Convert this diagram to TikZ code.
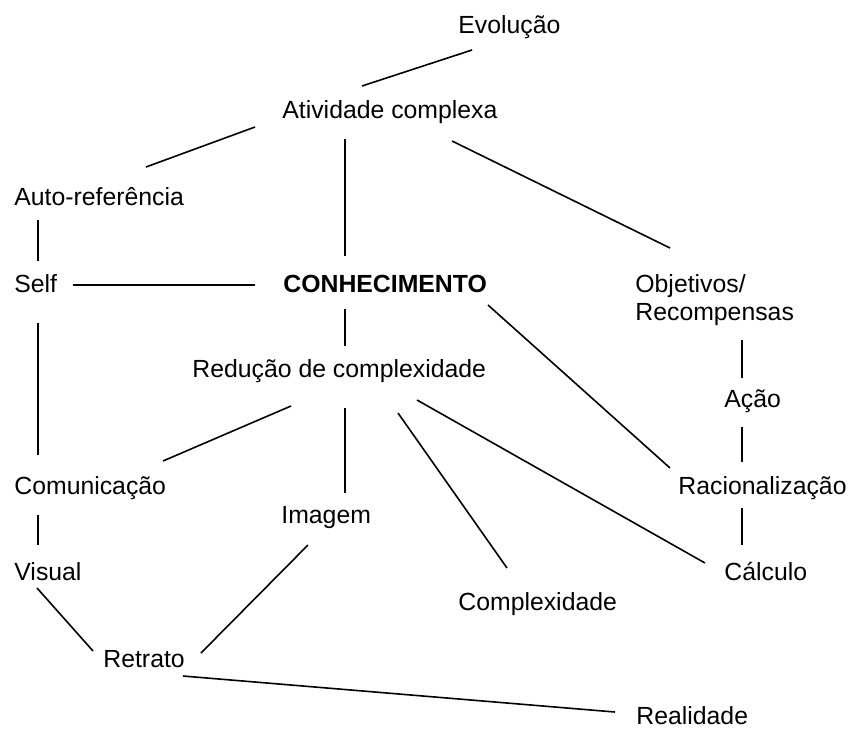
\documentclass[tikz,border=0pt]{standalone}
\usepackage{fontspec}
\setmainfont{Liberation Sans}
\usepackage{tikz}

\tikzset{
  lbl/.style={anchor=base west, inner sep=0pt, font=\fontsize{12.4}{13.8}\selectfont},
  link/.style={line width=0.8pt}
}

\begin{document}
\begin{tikzpicture}[x=0.5pt, y=-0.5pt]
     \useasboundingbox (0,0) rectangle (850,728);
      %%%%%%%%%%%%%%%%%%%%%%%%%%%%%%%%%%%%%%%%%%%%%%
      %%% Concepts (placed at their base line)
      %%%%%%%%%%%%%%%%%%%%%%%%%%%%%%%%%%%%%%%%%%%%%%
     \node[lbl] (evo)  at (458,33)  {Evolução};
     \node[lbl] (atv)  at (282,118) {Atividade complexa};
     \node[lbl] (auto) at (14,205)  {Auto-referência};
     \node[lbl] (self) at (14,292)  {Self};
     \node[lbl, font=\fontsize{12.4}{13.8}\selectfont\bfseries] (con) at (283,292) {CONHECIMENTO};
     \node[lbl] (obj)  at (635,292) {Objetivos/};
     \node[lbl] (rec)  at (635,320) {Recompensas};
     \node[lbl] (red)  at (192,377) {Redução de complexidade};
     \node[lbl] (acao) at (724,407) {Ação};
     \node[lbl] (com)  at (14,494)  {Comunicação};
     \node[lbl] (rac)  at (678,494) {Racionalização};
     \node[lbl] (img)  at (281,523) {Imagem};
     \node[lbl] (vis)  at (14,580)  {Visual};
     \node[lbl] (calc) at (724,580) {Cálculo};
     \node[lbl] (cpx)  at (458,610) {Complexidade};
     \node[lbl] (ret)  at (103,667) {Retrato};
     \node[lbl] (real) at (636,724) {Realidade};

      %%%%%%%%%%%%%%%%%%%%%%%%%%%%%%%%%%%%%%%%%%%%%%
      %%% Links, free standing, offset from the labels
      %%%%%%%%%%%%%%%%%%%%%%%%%%%%%%%%%%%%%%%%%%%%%%
     % upper part
     \draw[link] ([shift={(80,-32)}]atv.base west) -- ([shift={(14,17)}]evo.base west);
     \draw[link] ([shift={(-27,9)}]atv.base west) -- ([shift={(132,-38)}]auto.base west);
     \draw[link] ([shift={(63,21)}]atv.base west) -- ([shift={(62,-36)}]con.base west);
     \draw[link] ([shift={(170,23)}]atv.base west) -- ([shift={(35,-44)}]obj.base west);
     \draw[link] ([shift={(24,15)}]auto.base west) -- ([shift={(24,-31)}]self.base west);
     \draw[link] ([shift={(59,-7)}]self.base west) -- ([shift={(-28,-7)}]con.base west);
     \draw[link] ([shift={(62,17)}]con.base west) -- ([shift={(153,-31)}]red.base west);
     \draw[link] ([shift={(205,13)}]con.base west) -- ([shift={(-8,-26)}]rac.base west);
     \draw[link] ([shift={(24,31)}]self.base west) -- ([shift={(24,-39)}]com.base west);
     % right column
     \draw[link] ([shift={(107,20)}]rec.base west) -- ([shift={(18,-29)}]acao.base west);
     \draw[link] ([shift={(18,20)}]acao.base west) -- ([shift={(64,-32)}]rac.base west);
     \draw[link] ([shift={(64,14)}]rac.base west) -- ([shift={(18,-35)}]calc.base west);
     % out of Redução de complexidade
     \draw[link] ([shift={(99,29)}]red.base west) -- ([shift={(149,-33)}]com.base west);
     \draw[link] ([shift={(153,31)}]red.base west) -- ([shift={(64,-30)}]img.base west);
     \draw[link] ([shift={(206,36)}]red.base west) -- ([shift={(49,-42)}]cpx.base west);
     \draw[link] ([shift={(225,23)}]red.base west) -- ([shift={(-19,-17)}]calc.base west);
     % lower part
     \draw[link] ([shift={(24,21)}]com.base west) -- ([shift={(24,-35)}]vis.base west);
     \draw[link] ([shift={(27,22)}]img.base west) -- ([shift={(98,-14)}]ret.base west);
     \draw[link] ([shift={(23,8)}]vis.base west) -- ([shift={(-10,-16)}]ret.base west);
     \draw[link] ([shift={(80,9)}]ret.base west) -- ([shift={(-21,-12)}]real.base west);
\end{tikzpicture}
\end{document}
